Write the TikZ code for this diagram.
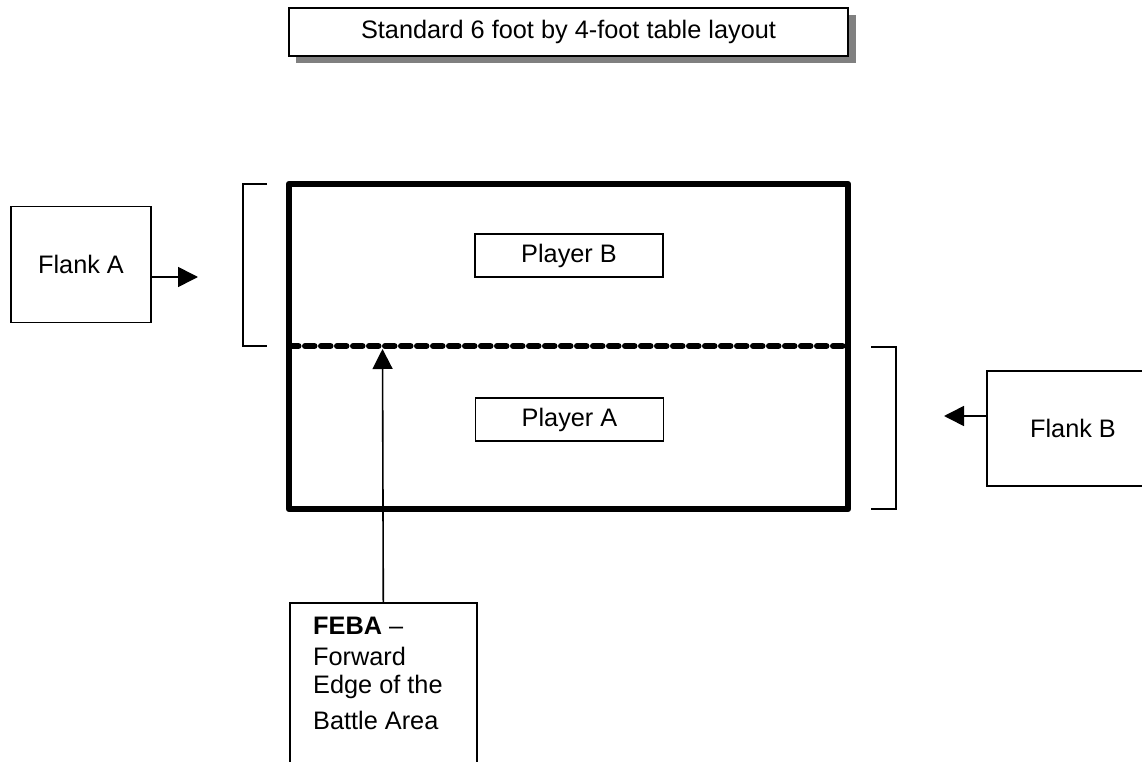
\documentclass[tikz,border=0pt]{standalone}
\usepackage{fontspec}
\setmainfont{Liberation Sans}
\usetikzlibrary{arrows.meta,shadows}
\begin{document}
\begin{tikzpicture}[x=1pt,y=-1pt,
  every node/.style={font=\fontsize{25.3}{29}\selectfont},
  thinbox/.style={draw=black,line width=1.6pt,inner sep=0pt},
  arr/.style={line width=1.6pt,-{Triangle[length=20pt,width=20pt]}},
  brk/.style={line width=1.6pt}]
\useasboundingbox (0,0) rectangle (1142,762);
\clip (0,0) rectangle (1142,762);
% title
\fill[black!50] (296,15) rectangle (856,63);
\node[draw=black,fill=white,line width=2pt,minimum width=559pt,minimum height=48pt,inner sep=0pt] (title) at (568.5,32) {\raisebox{-1.5pt}{Standard 6 foot by 4-foot table layout}};
% table
\node[draw=black,line width=6.5pt,line join=round,minimum width=559pt,minimum height=325pt,inner sep=0pt] (table) at (568.5,346.5) {};
\coordinate (febaL) at (289,346);
\coordinate (febaR) at (848,346);
\draw[line width=6pt,line cap=round,dash pattern=on 9.5pt off 6.5pt] (febaL) -- (febaR);
% players
\node[thinbox,minimum width=188pt,minimum height=43pt] (playerB) at (569,255.5) {\raisebox{-1.5pt}{Player B}};
\node[thinbox,minimum width=188pt,minimum height=43pt] (playerA) at (569.5,419.5) {\raisebox{-1.5pt}{Player A}};
% brackets
\coordinate (bl1) at (267,184);
\coordinate (bl2) at (267,346);
\draw[brk] (bl1) -- (243,184) -- (243,346) -- (bl2);
\coordinate (br1) at (871,347);
\coordinate (br2) at (871,509);
\draw[brk] (br1) -- (896,347) -- (896,509) -- (br2);
% flank A
\node[thinbox,minimum width=140pt,minimum height=116pt] (flankA) at (81,264.5) {\raisebox{-1.5pt}{Flank A}};
\coordinate (fa) at (198,277);
\draw[arr] (flankA.east |- fa) -- (fa);
% flank B
\node[thinbox,minimum width=172pt,minimum height=115pt] (flankB) at (1073,428.5) {\raisebox{-1.5pt}{Flank B}};
\coordinate (fb) at (944,416);
\draw[arr] (flankB.west |- fb) -- (fb);
% FEBA
\node[thinbox,anchor=north west,minimum width=187pt,minimum height=190pt] (feba) at (289,602) {};
\node[anchor=north west,align=left,inner sep=0pt] (febatext) at (313,617) {\textbf{FEBA} --\\[2pt]Forward\\[-1pt]Edge of the\\[7pt]Battle Area};
\coordinate (febatip) at (382.5,349);
\draw[arr] (feba.north) -- (febatip);
\end{tikzpicture}
\end{document}
